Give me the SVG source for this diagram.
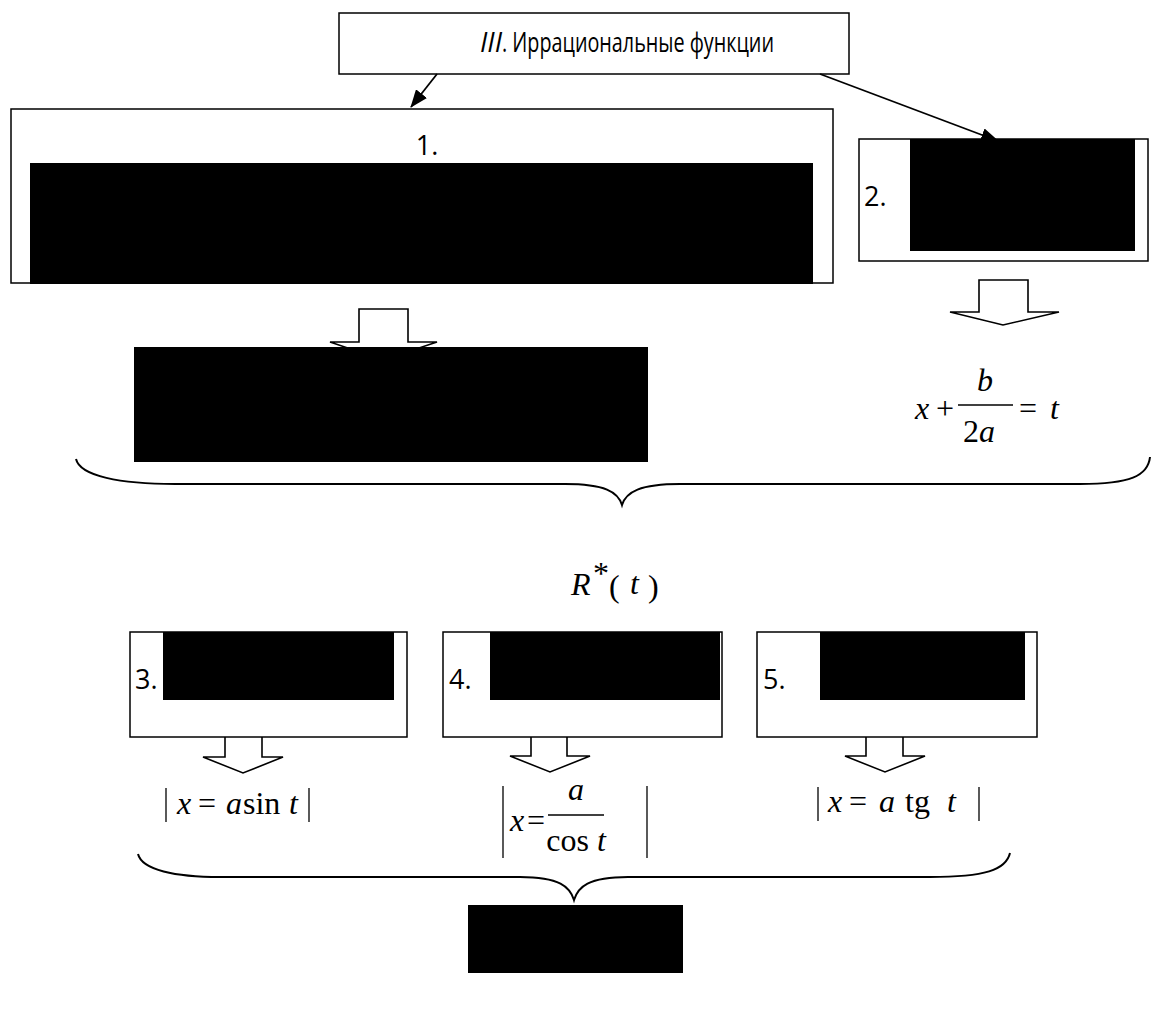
<svg xmlns="http://www.w3.org/2000/svg" width="1161" height="1009" viewBox="0 0 1161 1009">
<style>
.box{fill:#fff;stroke:#000;stroke-width:1.5}
.red{fill:#000}
.lbl{font-family:"Open Sans","Liberation Sans",sans-serif;font-size:27px;fill:#000}
.m{font-family:"Liberation Serif",serif;font-size:32px;fill:#000}
.mi{font-family:"Liberation Serif",serif;font-size:32px;font-style:italic;fill:#000}
.blk{fill:#fff;stroke:#000;stroke-width:1.6;stroke-linejoin:miter}
.ln{stroke:#000;stroke-width:1.8;fill:none}
.brace{stroke:#000;stroke-width:2;fill:none}
.bar{stroke:#000;stroke-width:1.3}
</style>
<defs>
<marker id="ah" viewBox="0 0 18 14" refX="17" refY="7" markerWidth="18" markerHeight="14" markerUnits="userSpaceOnUse" orient="auto">
<path d="M0,0 L18,7 L0,14 z" fill="#000"/>
</marker>
</defs>

<g id="title">
<rect class="box" x="339" y="13" width="510" height="61"/>
<text class="lbl" x="480" y="52" font-size="24" font-style="italic">III</text>
<text class="lbl" x="502" y="52" font-size="24" textLength="272" lengthAdjust="spacingAndGlyphs">. Иррациональные функции</text>
</g>

<g id="connectors">
<line class="ln" x1="437" y1="74" x2="411" y2="107" marker-end="url(#ah)"/>
<line class="ln" x1="820" y1="74" x2="998" y2="141" marker-end="url(#ah)"/>
<polygon class="blk" points="359,309 408,309 408,342 437,342 383,360 330,342 359,342"/>
<polygon class="blk" points="979,280 1028,280 1028,312 1059,312 1003,325 950,312 979,312"/>
<polygon class="blk" points="225,714 262,714 262,757 283,757 243,773 203,757 225,757"/>
<polygon class="blk" points="531,712 567,712 567,756 590,756 550,772 510,756 531,756"/>
<polygon class="blk" points="866,713 903,713 903,756 925,756 885,772 845,756 866,756"/>
</g>

<g id="node1">
<rect class="box" x="11" y="109" width="822" height="174"/>
<text class="lbl" x="427" y="155" text-anchor="middle">1.</text>
<rect class="red" x="30" y="163" width="783" height="121"/>
</g>

<g id="node2">
<rect class="box" x="859" y="139" width="289" height="122"/>
<text class="lbl" x="864" y="206">2.</text>
<rect class="red" x="910" y="139" width="225" height="112"/>
</g>

<g id="result1">
<rect class="red" x="134" y="347" width="514" height="115"/>
</g>

<g id="result2">
<text class="mi" x="915" y="419">x</text>
<text class="m" x="936" y="419">+</text>
<text class="mi" x="977" y="391">b</text>
<line class="bar" x1="958" y1="405" x2="1013" y2="405"/>
<text class="m" x="963" y="442">2<tspan font-style="italic">a</tspan></text>
<text class="m" x="1019" y="419">=</text>
<text class="mi" x="1050" y="419">t</text>
</g>

<g id="brace1">
<path class="brace" d="M76,459 C80,476 120,484 175,484 L565,484 C605,484 618,492 622,505 C626,492 640,484 680,484 L1080,484 C1130,484 1148,476 1150,457"/>
</g>

<g id="rstar">
<text class="mi" x="571" y="595" font-size="34">R</text>
<text class="m" x="593" y="584" font-size="22">*</text>
<text class="m" x="609" y="597" font-size="44">(</text>
<text class="mi" x="630" y="594" font-size="34">t</text>
<text class="m" x="648" y="597" font-size="44">)</text>
</g>

<g id="node3">
<rect class="box" x="130" y="632" width="277" height="105"/>
<text class="lbl" x="135" y="689">3.</text>
<rect class="red" x="163" y="632" width="231" height="68"/>
</g>

<g id="node4">
<rect class="box" x="443" y="632" width="279" height="105"/>
<text class="lbl" x="449" y="689">4.</text>
<rect class="red" x="490" y="632" width="230" height="68"/>
</g>

<g id="node5">
<rect class="box" x="757" y="632" width="280" height="105"/>
<text class="lbl" x="763" y="689">5.</text>
<rect class="red" x="820" y="632" width="205" height="68"/>
</g>

<g id="formula3">
<line class="bar" x1="166" y1="788" x2="166" y2="822"/>
<text class="mi" x="177" y="814">x</text>
<text class="m" x="198" y="814">=</text>
<text class="mi" x="226" y="814">a</text>
<text class="m" x="243" y="814">sin</text>
<text class="mi" x="289" y="814">t</text>
<line class="bar" x1="309" y1="788" x2="309" y2="822"/>
</g>

<g id="formula4">
<line class="bar" x1="503" y1="786" x2="503" y2="858"/>
<text class="mi" x="510" y="831">x</text>
<text class="m" x="527" y="831" font-size="30">=</text>
<text class="mi" x="576" y="800" text-anchor="middle">a</text>
<line class="bar" x1="548" y1="815" x2="604" y2="815"/>
<text class="m" x="576" y="851" text-anchor="middle">cos <tspan font-style="italic">t</tspan></text>
<line class="bar" x1="647" y1="786" x2="647" y2="858"/>
</g>

<g id="formula5">
<line class="bar" x1="818" y1="787" x2="818" y2="821"/>
<text class="mi" x="828" y="812">x</text>
<text class="m" x="849" y="812">=</text>
<text class="mi" x="879" y="812">a</text>
<text class="m" x="905" y="812">tg</text>
<text class="mi" x="947" y="812">t</text>
<line class="bar" x1="979" y1="787" x2="979" y2="821"/>
</g>

<g id="brace2">
<path class="brace" d="M138,854 C142,870 175,877 220,877 L520,877 C560,877 570,887 574,900 C578,887 588,877 628,877 L930,877 C985,877 1006,870 1010,853"/>
</g>

<g id="final">
<rect class="red" x="468" y="905" width="215" height="68"/>
</g>
</svg>
